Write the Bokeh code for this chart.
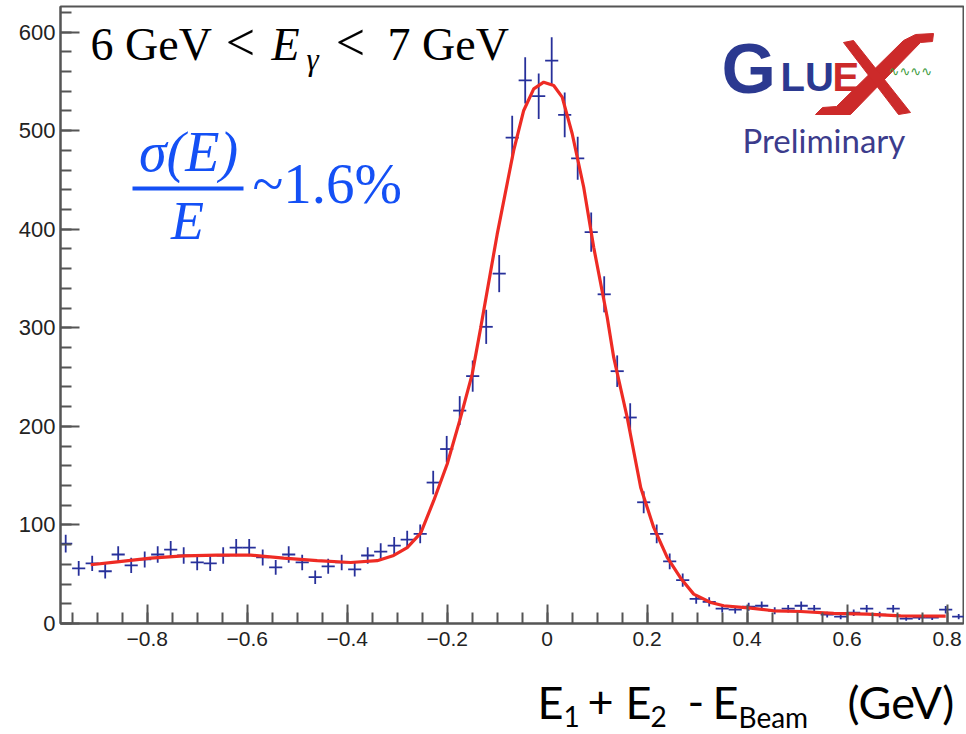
import math
from bokeh.plotting import figure
from bokeh.layouts import column
from bokeh.models import Label, FixedTicker, BoxAnnotation, Range1d
from bokeh.embed import file_html
from bokeh.resources import INLINE

# ---------------- data ----------------
bin_centers = [-0.963, -0.937, -0.910, -0.884, -0.858, -0.832, -0.805, -0.779, -0.753, -0.727,
               -0.700, -0.674, -0.648, -0.622, -0.596, -0.569, -0.543, -0.517, -0.490, -0.464,
               -0.438, -0.411, -0.385, -0.359, -0.333, -0.306, -0.280, -0.254, -0.228, -0.201,
               -0.175, -0.149, -0.122, -0.096, -0.070, -0.044, -0.017, 0.009, 0.035, 0.061,
               0.088, 0.114, 0.140, 0.166, 0.193, 0.219, 0.245, 0.271, 0.298, 0.324,
               0.350, 0.376, 0.403, 0.429, 0.455, 0.482, 0.508, 0.534, 0.560, 0.587,
               0.613, 0.639, 0.665, 0.692, 0.718, 0.744, 0.770, 0.797, 0.823]
counts = [81, 56, 61, 53, 70, 59, 65, 70, 75, 69,
          62, 61, 69, 77, 77, 67, 57, 70, 62, 47,
          58, 62, 55, 69, 73, 79, 85, 91, 143, 177,
          216, 251, 301, 355, 493, 551, 535, 571, 516, 472,
          397, 334, 256, 209, 123, 91, 63, 44, 25, 22,
          15, 14, 17, 18, 13, 15, 18, 15, 9, 7,
          11, 15, 9, 15, 5, 6, 6, 14, 7]
bin_width = 0.02626

fit_x = [-0.913, -0.86, -0.793, -0.727, -0.66, -0.593, -0.527, -0.46, -0.393, -0.34,
         -0.307, -0.28, -0.253, -0.227, -0.2, -0.175, -0.15, -0.133, -0.1, -0.067,
         -0.047, -0.027, -0.007, 0.013, 0.03, 0.05, 0.073, 0.093, 0.12, 0.133,
         0.16, 0.187, 0.213, 0.24, 0.267, 0.293, 0.327, 0.353, 0.407, 0.453,
         0.507, 0.573, 0.64, 0.707, 0.797]
fit_y = [59.6, 62.6, 66.4, 68.7, 69.4, 69.4, 66.4, 63.7, 61.9, 63.7,
         69.0, 77.0, 91.6, 124.6, 161.8, 205.8, 253.0, 300.0, 395.0, 480.0,
         520.5, 542.5, 549.2, 545.9, 534.0, 496.9, 442.6, 381.7, 310.7, 270.0,
         209.0, 138.0, 97.5, 67.0, 46.0, 29.8, 21.3, 18.0, 15.6, 12.9,
         12.2, 10.2, 9.5, 7.8, 7.5]

x_ticks = [-0.8, -0.6, -0.4, -0.2, 0.0, 0.2, 0.4, 0.6, 0.8]
x_tick_labels = ["\u22120.8", "\u22120.6", "\u22120.4", "\u22120.2", "0", "0.2", "0.4", "0.6", "0.8"]
y_ticks = [0, 100, 200, 300, 400, 500, 600]
y_tick_labels = ["0", "100", "200", "300", "400", "500", "600"]

# ---------------- layout ----------------
W = 964
PH, QH = 660, 74
MBL, MBR, MBT, MBB = 60, 1, 6, 37
X0, X1 = -0.9734, 0.8326
Y0, Y1 = 0.0, 626.0
FL, FR = MBL, W - MBR
FT, FB = MBT, PH - MBB
BASE_FIX = 0.35   # empirical shift of the rendered alphabetic baseline (in em)


def dx(ix):
    return X0 + (ix - FL) / (FR - FL) * (X1 - X0)


def dy(iy):
    return Y0 + (FB - iy) / (FB - FT) * (Y1 - Y0)


p = figure(width=W, height=PH, x_range=Range1d(X0, X1), y_range=Range1d(Y0, Y1),
           output_backend="svg", toolbar_location=None,
           min_border_left=MBL, min_border_right=MBR, min_border_top=MBT, min_border_bottom=MBB)
p.background_fill_color = "white"
p.border_fill_color = "white"
p.grid.visible = False
p.outline_line_color = "#555555"
p.outline_line_width = 2

AX = "#555555"
for ax in (p.xaxis[0], p.yaxis[0]):
    ax.axis_line_color = AX
    ax.axis_line_width = 2
    ax.major_tick_line_color = AX
    ax.minor_tick_line_color = AX
    ax.major_tick_line_width = 2
    ax.minor_tick_line_width = 2
    ax.major_tick_in = 19
    ax.major_tick_out = 0
    ax.minor_tick_in = 11
    ax.minor_tick_out = 0
    ax.major_label_text_font = "Liberation Sans"
    ax.major_label_text_color = "#222222"

p.xaxis[0].ticker = FixedTicker(ticks=x_ticks,
                                minor_ticks=[round(-0.95 + 0.05 * k, 2) for k in range(36)])
p.xaxis[0].major_label_overrides = {t: s for t, s in zip(x_ticks, x_tick_labels)}
p.xaxis[0].major_label_text_font_size = "21px"
p.xaxis[0].major_label_standoff = 8

p.yaxis[0].ticker = FixedTicker(ticks=y_ticks, minor_ticks=[20 * k for k in range(32)])
p.yaxis[0].major_label_overrides = {t: s for t, s in zip(y_ticks, y_tick_labels)}
p.yaxis[0].major_label_text_font_size = "22px"
p.yaxis[0].major_label_standoff = 5

# ---------------- data marks ----------------
PT = "#27309a"
errs = [math.sqrt(c) for c in counts]
p.segment(x0=bin_centers, y0=[c - e for c, e in zip(counts, errs)],
          x1=bin_centers, y1=[c + e for c, e in zip(counts, errs)],
          line_color=PT, line_width=1.8)
p.segment(x0=[x - bin_width / 2 for x in bin_centers], y0=counts,
          x1=[x + bin_width / 2 for x in bin_centers], y1=counts,
          line_color=PT, line_width=1.8)
p.line(fit_x, fit_y, line_color="#ee2b24", line_width=3.2)


# ---------------- annotations ----------------
def lab(fig, cx, cy, text, ix, iy, size, color="black", font="Liberation Serif",
        style="normal", align="left"):
    fig.add_layout(Label(x=cx(ix), y=cy(iy - BASE_FIX * size), text=text, text_font=font,
                         text_font_size=f"{size}px", text_color=color, text_font_style=style,
                         text_align=align, text_baseline="alphabetic"))


def plab(*a, **k):
    lab(p, dx, dy, *a, **k)


# energy range
plab("6 GeV", 90, 60, 46)
plab("<", 240, 60, 52, align="center")
plab("E", 271, 60, 46, style="italic")
plab("\u03b3", 306, 70, 31, style="italic")
plab("<", 350, 60, 52, align="center")
plab("7 GeV", 387, 60, 46)

# resolution
BLUE = "#1450f5"
plab("\u03c3(E)", 188, 171, 56, color=BLUE, style="italic", align="center")
p.add_layout(BoxAnnotation(left=dx(132), right=dx(243), bottom=dy(190), top=dy(186),
                           fill_color=BLUE, fill_alpha=1.0, line_color=None))
plab("E", 187, 239, 54, color=BLUE, style="italic", align="center")
plab("~1.6%", 252, 203, 57, color=BLUE)

# GlueX logo
LB = "#2b3990"
LR = "#cc2a2a"
plab("G", 721, 93, 70, color=LB, font="Liberation Sans", style="bold")
plab("LU", 780, 90, 40, color=LB, font="Liberation Sans", style="bold")
plab("E", 832, 90, 40, color=LR, font="Liberation Sans", style="bold")
thick = [(815, 114), (822, 107), (836, 106), (903, 40), (915, 34), (933, 33),
         (932, 41), (920, 42), (850, 114)]
thin = [(843, 42), (853, 40), (910, 112), (898, 114)]
for poly in (thick, thin):
    p.patch([dx(a) for a, b in poly], [dy(b) for a, b in poly],
            fill_color=LR, line_color=LR, line_width=1)
plab("\u223f\u223f\u223f\u223f", 888, 76, 13, color="#3a9a3a", font="DejaVu Sans")
plab("Preliminary", 742, 151, 33, color="#3c3c8c", font="Lato")

# ---------------- x-axis title (separate strip below, no axes) ----------------
# its frame is given the same side borders as the main plot, so data x == page x
q = figure(width=W, height=QH, x_range=Range1d(FL, FR), y_range=Range1d(0, QH),
           output_backend="svg", toolbar_location=None,
           x_axis_location=None, y_axis_location=None,
           min_border_left=MBL, min_border_right=MBR, min_border_top=0, min_border_bottom=0)
q.grid.visible = False
q.outline_line_color = None
q.background_fill_color = "white"
q.border_fill_color = "white"


def qx(ix):
    return ix


def qy(iy):
    return QH - (iy - PH)


def tlab(*a, **k):
    lab(q, qx, qy, *a, **k)


TF = "Lato"
tlab("E", 537, 717, 45, font=TF)
tlab("1", 563, 726, 28, font=TF)
tlab("+", 587, 717, 45, font=TF)
tlab("E", 625, 717, 45, font=TF)
tlab("2", 650, 726, 28, font=TF)
tlab("-", 687, 717, 45, font=TF)
tlab("E", 712, 717, 45, font=TF)
tlab("Beam", 738, 726, 28, font=TF)
tlab("(GeV)", 847, 717, 45, font=TF)

layout = column(p, q, spacing=0)
open("out.html", "w").write(file_html(layout, INLINE))
